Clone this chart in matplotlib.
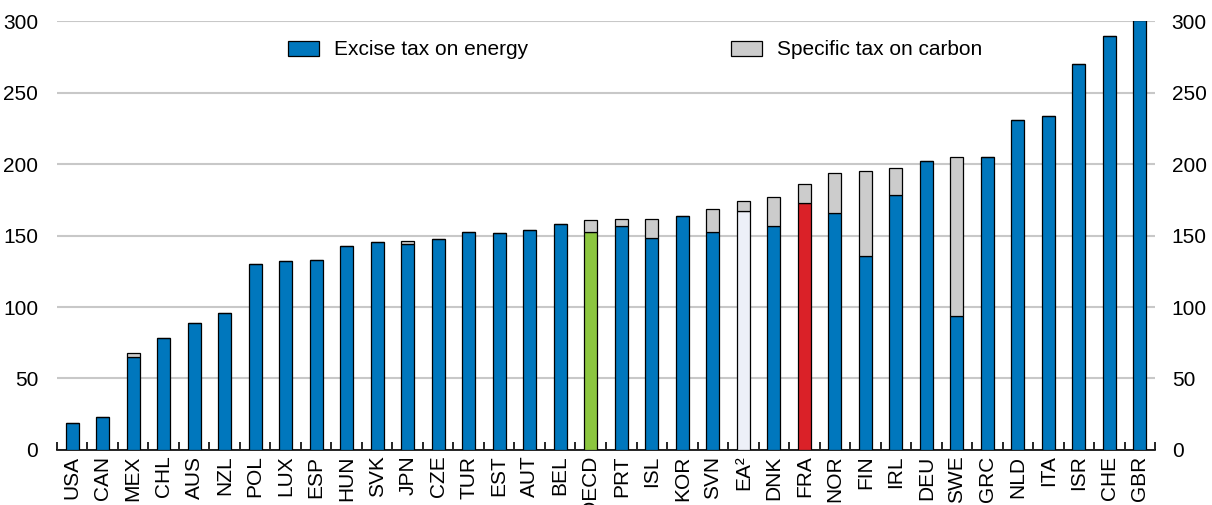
import numpy as np
import matplotlib
matplotlib.use("Agg")
import matplotlib.pyplot as plt

plt.rcParams['font.family'] = ['Liberation Sans', 'DejaVu Sans']

countries = ["USA", "CAN", "MEX", "CHL", "AUS", "NZL", "POL", "LUX", "ESP", "HUN",
             "SVK", "JPN", "CZE", "TUR", "EST", "AUT", "BEL", "OECD", "PRT", "ISL",
             "KOR", "SVN", "EA²", "DNK", "FRA", "NOR", "FIN", "IRL", "DEU", "SWE",
             "GRC", "NLD", "ITA", "ISR", "CHE", "GBR"]
excise = [18.6, 22.8, 65.3, 78, 89, 96, 130.3, 132.2, 133, 142.7,
          145.7, 144.3, 147.6, 152.2, 152, 153.6, 158, 152.4, 156.6, 148.3,
          163.8, 152.4, 166.9, 156.4, 172.9, 165.5, 135.7, 178.5, 202.1, 93.5,
          205.1, 231, 234, 270.4, 289.5, 300.5]
carbon = [0, 0, 2.3, 0, 0, 0, 0, 0, 0, 0,
          0, 1.9, 0, 0, 0, 0, 0, 8.6, 4.7, 13.4,
          0, 16.3, 7.0, 20.7, 13.3, 28.2, 59.2, 18.5, 0, 111.2,
          0, 0, 0, 0, 0, 0]

blue = "#0077BD"
colors = [blue] * len(countries)
colors[countries.index("OECD")] = "#8CC63F"
colors[countries.index("EA²")] = "#EDF0F8"
colors[countries.index("FRA")] = "#DA2128"

x = np.arange(len(countries))
fig = plt.figure(figsize=(12.12, 5.05), dpi=100)
ax = fig.add_axes([0.047, 0.109, 0.906, 0.849])

ax.bar(x, excise, width=0.42, color=colors, edgecolor="black", linewidth=0.9, zorder=3)
ax.bar(x, carbon, width=0.42, bottom=excise, color="#CCCCCC", edgecolor="black",
       linewidth=0.9, zorder=3)

# legend proxies
h1 = plt.Rectangle((0, 0), 1, 1, facecolor=blue, edgecolor="black", linewidth=0.9)
h2 = plt.Rectangle((0, 0), 1, 1, facecolor="#CCCCCC", edgecolor="black", linewidth=0.9)
fig.legend([h1, h2], ["Excise tax on energy", "Specific tax on carbon"], ncol=2,
           loc="center", bbox_to_anchor=(0.524, 0.901), frameon=False, fontsize=15,
           handlelength=1.5, handleheight=0.75, handletextpad=0.7, columnspacing=9.75)

ax.set_xlim(-0.5, len(countries) - 0.5)
ax.set_ylim(0, 300)
ax.set_yticks(np.arange(0, 301, 50))
ax.yaxis.grid(True, color="#C8C8C8", linewidth=1.5, zorder=0)
ax.set_axisbelow(True)
ax.tick_params(axis="y", length=0, labelsize=15, pad=13.5)

ax.set_xticks(x)
ax.set_xticklabels(countries, rotation=90, fontsize=15)
ax.tick_params(axis="x", which="major", length=0, pad=4)
ax.set_xticks(np.arange(-0.5, len(countries), 1), minor=True)
ax.tick_params(axis="x", which="minor", direction="in", length=6, width=1.2, color="black")

for s in ["top", "left", "right"]:
    ax.spines[s].set_visible(False)
ax.spines["bottom"].set_linewidth(1.2)

ax2 = ax.twinx()
ax2.set_ylim(0, 300)
ax2.set_yticks(np.arange(0, 301, 50))
ax2.tick_params(axis="y", length=0, labelsize=15, pad=12)
for s in ["top", "left", "right", "bottom"]:
    ax2.spines[s].set_visible(False)

fig.savefig("out.png", dpi=100)
